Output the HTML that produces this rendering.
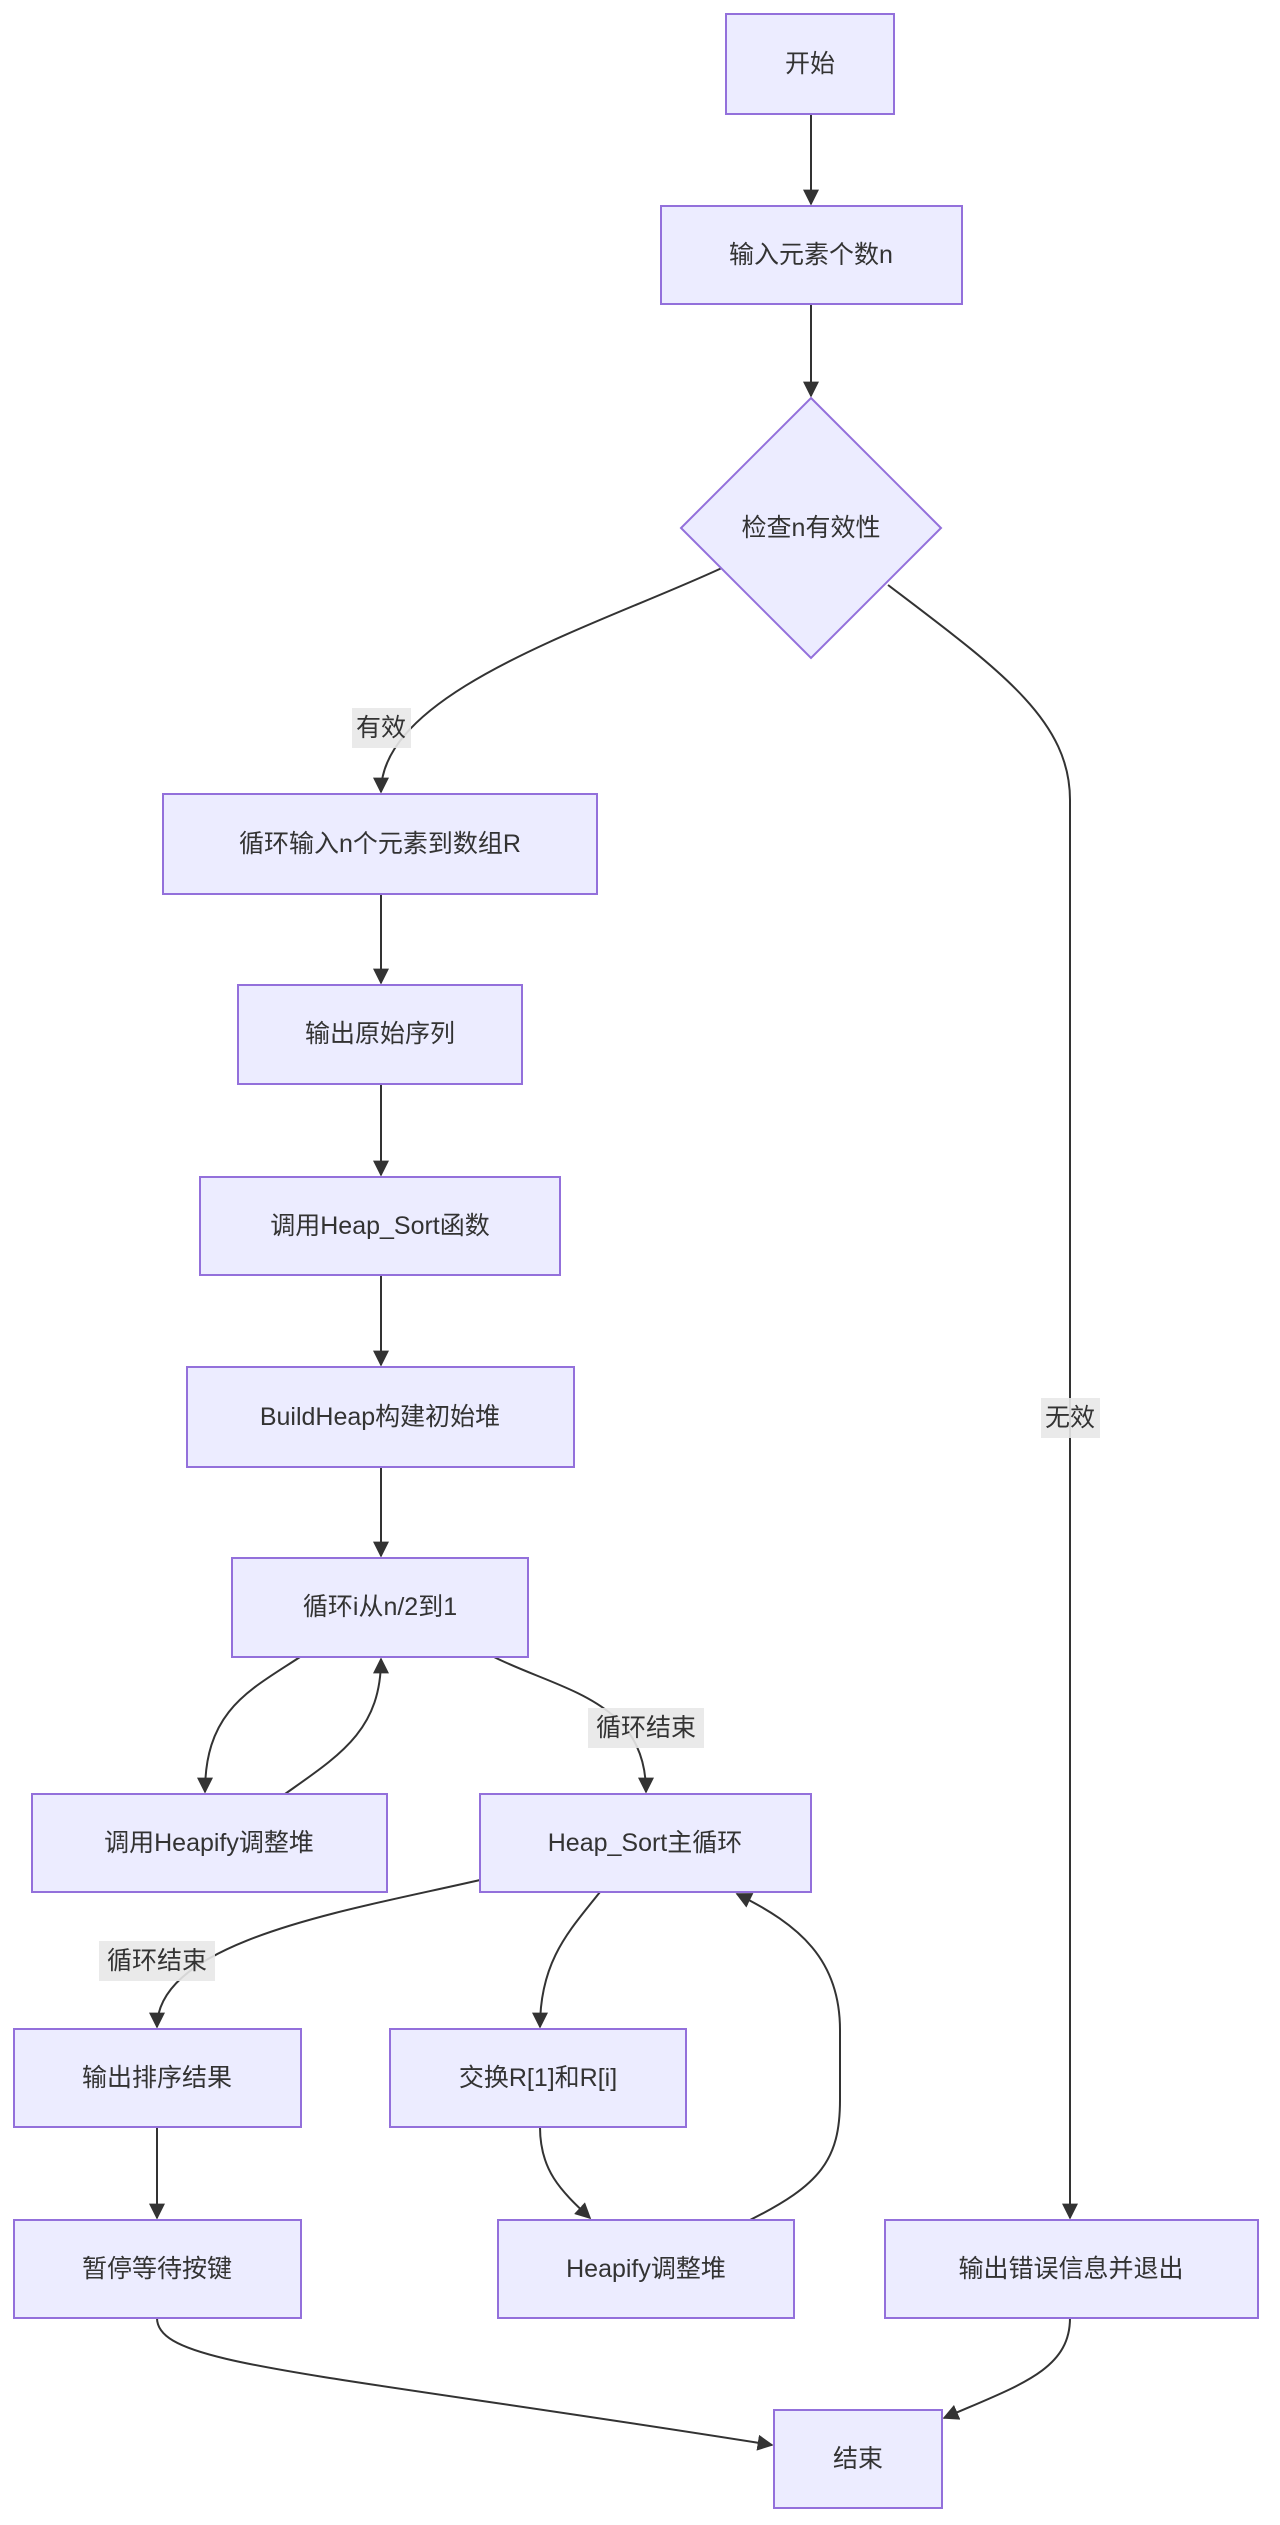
<!DOCTYPE html>
<html><head><meta charset="utf-8"><style>
html,body{margin:0;padding:0;background:#fff;}
svg{display:block;}
text{font-family:"Liberation Sans","Noto Sans CJK SC",sans-serif;font-size:25px;fill:#333;text-anchor:middle;dominant-baseline:central;}
.n{fill:#ECECFF;stroke:#9370DB;stroke-width:2;}
.e{fill:none;stroke:#333;stroke-width:2;}
.lb{fill:#e8e8e8;opacity:0.9;}
</style></head><body>
<svg width="1280" height="2525" viewBox="0 0 1280 2525" xmlns="http://www.w3.org/2000/svg">
<defs><marker id="a" viewBox="0 0 10 10" refX="9" refY="5" markerWidth="8" markerHeight="8" orient="auto" markerUnits="userSpaceOnUse" ><path d="M0,0L10,5L0,10z" fill="#333"/></marker>
<marker id="b" viewBox="0 0 10 10" refX="9" refY="5" markerWidth="16" markerHeight="16" orient="auto" markerUnits="userSpaceOnUse"><path d="M0,0L10,5L0,10z" fill="#333"/></marker></defs>
<g class="e" marker-end="url(#b)">
<path d="M811,114 L811,204"/>
<path d="M811,304 L811,396"/>
<path d="M724,567 C600,625 381,690 381,792"/>
<path d="M888,585 C1000,670 1070,720 1070,800 L1070,2218"/>
<path d="M381,894 L381,983"/>
<path d="M381,1084 L381,1175"/>
<path d="M381,1275 L381,1365"/>
<path d="M381,1467 L381,1556"/>
<path d="M300,1657 C250,1690 205,1710 205,1792"/>
<path d="M285,1794 C340,1755 381,1730 381,1659"/>
<path d="M494,1657 C560,1690 646,1700 646,1792"/>
<path d="M480,1880 C350,1910 157,1940 157,2027"/>
<path d="M600,1892 C570,1930 540,1960 540,2027"/>
<path d="M540,2127 C540,2170 560,2190 590,2218"/>
<path d="M750,2220 C820,2185 840,2160 840,2100 L840,2030 C840,1960 800,1925 737,1894"/>
<path d="M157,2127 L157,2218"/>
<path d="M157,2318 C157,2365 300,2370 772,2445"/>
<path d="M1070,2318 C1070,2370 1020,2385 944,2418"/>
</g>
<rect class="n" x="726" y="14" width="168" height="100"/><text x="810" y="64">开始</text>
<rect class="n" x="661" y="206" width="301" height="98"/><text x="811" y="255">输入元素个数n</text>
<polygon class="n" points="811,398 941,528 811,658 681,528"/><text x="811" y="528">检查n有效性</text>
<rect class="n" x="163" y="794" width="434" height="100"/><text x="380" y="844">循环输入n个元素到数组R</text>
<rect class="n" x="238" y="985" width="284" height="99"/><text x="380" y="1034">输出原始序列</text>
<rect class="n" x="200" y="1177" width="360" height="98"/><text x="380" y="1226">调用Heap_Sort函数</text>
<rect class="n" x="187" y="1367" width="387" height="100"/><text x="380" y="1417">BuildHeap构建初始堆</text>
<rect class="n" x="232" y="1558" width="296" height="99"/><text x="380" y="1607">循环i从n/2到1</text>
<rect class="n" x="32" y="1794" width="355" height="98"/><text x="209" y="1843">调用Heapify调整堆</text>
<rect class="n" x="480" y="1794" width="331" height="98"/><text x="645" y="1843">Heap_Sort主循环</text>
<rect class="n" x="14" y="2029" width="287" height="98"/><text x="157" y="2078">输出排序结果</text>
<rect class="n" x="390" y="2029" width="296" height="98"/><text x="538" y="2078">交换R[1]和R[i]</text>
<rect class="n" x="14" y="2220" width="287" height="98"/><text x="157" y="2269">暂停等待按键</text>
<rect class="n" x="498" y="2220" width="296" height="98"/><text x="646" y="2269">Heapify调整堆</text>
<rect class="n" x="885" y="2220" width="373" height="98"/><text x="1071" y="2269">输出错误信息并退出</text>
<rect class="n" x="774" y="2410" width="168" height="98"/><text x="858" y="2459">结束</text>
<rect class="lb" x="352" y="708" width="59" height="40"/><text x="381" y="728">有效</text>
<rect class="lb" x="1041" y="1398" width="59" height="40"/><text x="1070" y="1418">无效</text>
<rect class="lb" x="588" y="1708" width="116" height="40"/><text x="646" y="1728">循环结束</text>
<rect class="lb" x="99" y="1941" width="116" height="40"/><text x="157" y="1961">循环结束</text>
</svg>
</body></html>
